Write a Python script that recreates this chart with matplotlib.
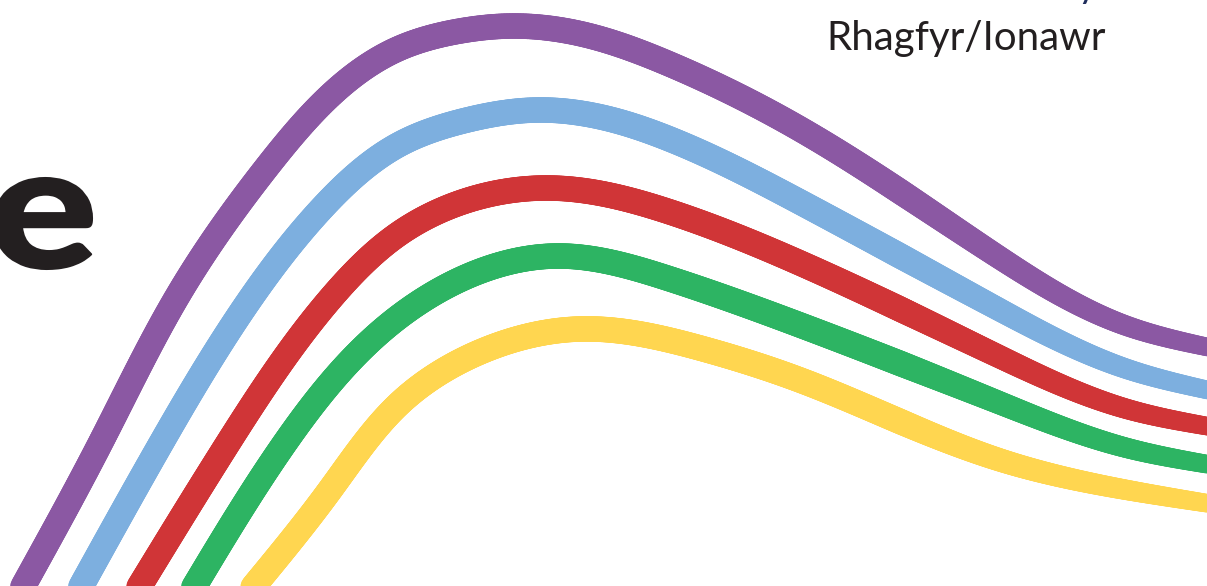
import numpy as np
import matplotlib
matplotlib.use('Agg')
import matplotlib.pyplot as plt
from matplotlib.collections import LineCollection
from matplotlib.textpath import TextPath
from matplotlib.patches import PathPatch
from matplotlib.font_manager import FontProperties
from matplotlib.transforms import Affine2D

W, H = 1207, 586

# centre lines (pixel coords, y down)
purple_x = [20, 102, 177, 267, 400, 460, 513, 590, 667, 800, 1000, 1127, 1212]
purple_y = [592, 440, 297, 167, 48, 31, 26, 36, 63, 129, 258, 326, 348]
blue_x = [78, 163, 253, 325, 400, 467, 537, 617, 667, 800, 1000, 1127, 1212]
blue_y = [592, 440, 295, 205, 144, 120, 110, 121, 138, 202, 310, 369, 391]
red_x = [136, 230, 338, 400, 547, 667, 800, 1000, 1127, 1212]
red_y = [592, 440, 290, 233, 188, 211, 263, 357, 409, 427]
green_x = [191, 287, 400, 557, 667, 800, 1000, 1127, 1212]
green_y = [592, 440, 316, 256, 278, 325, 403, 448, 465]
yellow_x = [249, 330, 400, 480, 580, 700, 800, 1000, 1127, 1212]
yellow_y = [592, 490, 403, 352, 329, 348, 380, 460, 490, 504]

lines = [(purple_x, purple_y, '#8B58A3'),
         (blue_x, blue_y, '#7DAFDF'),
         (red_x, red_y, '#D03537'),
         (green_x, green_y, '#2DB463'),
         (yellow_x, yellow_y, '#FFD650')]

big_letter = 'e'
month_cy = 'Rhagfyr/Ionawr'
month_en = 'January'


def spline1d(t, y, tt):
    # natural cubic spline
    n = len(t)
    h = np.diff(t)
    A = np.zeros((n, n))
    b = np.zeros(n)
    A[0, 0] = A[-1, -1] = 1
    for i in range(1, n - 1):
        A[i, i - 1] = h[i - 1]
        A[i, i] = 2 * (h[i - 1] + h[i])
        A[i, i + 1] = h[i]
        b[i] = 6 * ((y[i + 1] - y[i]) / h[i] - (y[i] - y[i - 1]) / h[i - 1])
    M = np.linalg.solve(A, b)
    k = np.clip(np.searchsorted(t, tt) - 1, 0, n - 2)
    hk = h[k]
    a = (t[k + 1] - tt) / hk
    c = (tt - t[k]) / hk
    return (a * y[k] + c * y[k + 1]
            + ((a ** 3 - a) * M[k] + (c ** 3 - c) * M[k + 1]) * hk ** 2 / 6)


def smooth(px, py, n=600):
    px = np.asarray(px, float)
    py = np.asarray(py, float)
    t = np.concatenate([[0], np.cumsum(np.hypot(np.diff(px), np.diff(py)))])
    tt = np.linspace(0, t[-1], n)
    return np.column_stack([spline1d(t, px, tt), spline1d(t, py, tt)])


dpi = 100
fig = plt.figure(figsize=(W / dpi, H / dpi), dpi=dpi)
ax = fig.add_axes([0, 0, 1, 1])
ax.set_xlim(0, W)
ax.set_ylim(H, 0)
ax.axis('off')

for xs, ys, col in lines:
    pts = smooth(xs, ys)
    segs = np.stack([pts[:-1], pts[1:]], axis=1)
    mx = segs[:, :, 0].mean(axis=1)
    # band gets a bit thinner towards the right edge
    wpx = np.where(mx < 900, 25.5, 25.5 - (mx - 900) / (W - 900) * 7.0)
    lc = LineCollection(segs, colors=col, linewidths=wpx * 72 / dpi,
                        capstyle='round', joinstyle='round')
    ax.add_collection(lc)

# big heavy "e", cut by the left edge
tp = TextPath((0, 0), big_letter, size=100,
              prop=FontProperties(family='Lato', weight='black'))
ext = tp.get_extents()
e_right, e_bottom, e_h = 92, 269, 91
e_w = ext.width / ext.height * e_h * 1.2
tr = (Affine2D().translate(-ext.x1, -ext.y0)
      .scale(e_w / ext.width, -e_h / ext.height)
      .translate(e_right, e_bottom))
ax.add_patch(PathPatch(tr.transform_path(tp), facecolor='#231F20',
                       edgecolor='#231F20', linewidth=1.5, joinstyle='round'))

ax.text(826, 50, month_cy, fontsize=29, family='Lato', color='#231F20',
        ha='left', va='baseline')
ax.text(1098, -3, month_en, fontsize=27, family='Lato', color='#1F2D5C',
        ha='right', va='baseline')

fig.savefig('out.png', dpi=dpi, facecolor='white')
